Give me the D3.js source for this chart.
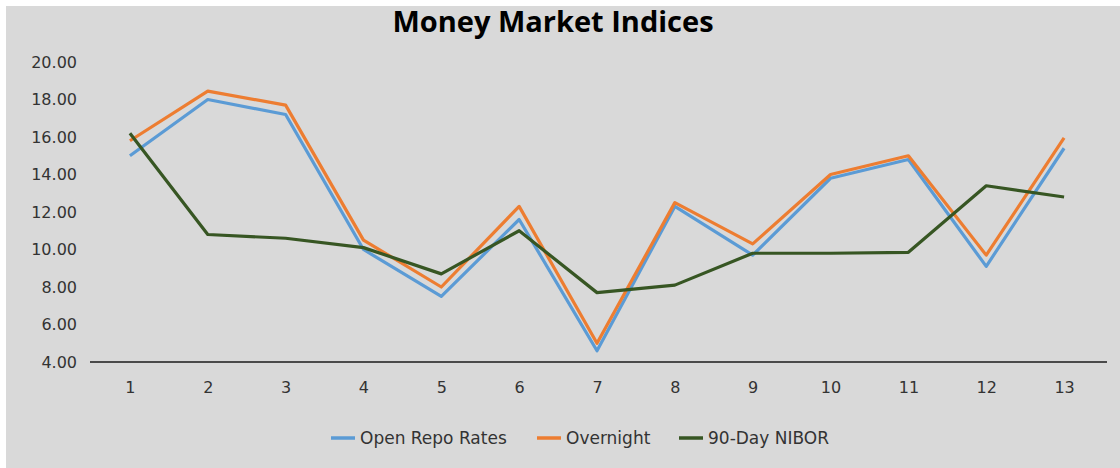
<!DOCTYPE html>
<html>
<head>
<meta charset="utf-8">
<script src="https://cdn.jsdelivr.net/npm/d3@7"></script>
<style>
  html, body { margin: 0; padding: 0; background: #fff; }
  svg { display: block; }
</style>
</head>
<body>
<div id="chart"></div>
<script>
// data
const periods = [1, 2, 3, 4, 5, 6, 7, 8, 9, 10, 11, 12, 13];
const openRepo = [15.0, 18.0, 17.2, 10.0, 7.5, 11.6, 4.6, 12.3, 9.7, 13.8, 14.8, 9.1, 15.4];
const overnight = [15.8, 18.45, 17.7, 10.5, 8.0, 12.3, 5.0, 12.5, 10.3, 14.0, 15.0, 9.7, 15.95];
const nibor = [16.2, 10.8, 10.6, 10.1, 8.7, 11.0, 7.7, 8.1, 9.8, 9.8, 9.85, 13.4, 12.8];
const yTicks = [4, 6, 8, 10, 12, 14, 16, 18, 20];
const seriesNames = ["Open Repo Rates", "Overnight", "90-Day NIBOR"];

const width = 1120;
const height = 468;
const colors = ["#5b9bd5", "#ed7d31", "#375623"];
const seriesData = [openRepo, overnight, nibor];
const labelFont = "'DejaVu Sans', Verdana, sans-serif";

const svg = d3.select("#chart")
  .append("svg")
  .attr("width", width)
  .attr("height", height);

// chart area background
svg.append("rect")
  .attr("x", 6)
  .attr("y", 6)
  .attr("width", width - 6)
  .attr("height", height - 6)
  .attr("fill", "#d9d9d9");

svg.append("text")
  .attr("x", 553)
  .attr("y", 32)
  .attr("text-anchor", "middle")
  .style("font-family", "'Open Sans', 'Liberation Sans', sans-serif")
  .style("font-weight", "bold")
  .style("font-size", "29px")
  .attr("fill", "#000")
  .text("Money Market Indices");

const x = d3.scalePoint()
  .domain(periods)
  .range([91, 1103])
  .padding(0.5);

const y = d3.scaleLinear()
  .domain([4, 20])
  .range([362, 62]);

// y axis labels, no line
const yAxis = svg.append("g")
  .attr("transform", "translate(77,0)")
  .call(d3.axisLeft(y).tickValues(yTicks).tickFormat(d3.format(".2f")).tickSize(0).tickPadding(0));
yAxis.select(".domain").remove();
yAxis.selectAll("text")
  .style("font-family", labelFont)
  .style("font-size", "16px")
  .attr("fill", "#333");

// x axis
const xAxis = svg.append("g")
  .attr("transform", "translate(0,362)")
  .call(d3.axisBottom(x).tickSize(0).tickPadding(20));
xAxis.select(".domain")
  .attr("d", "M90,0H1107")
  .attr("stroke", "#1a1a1a")
  .attr("stroke-width", 1.5);
xAxis.selectAll("text")
  .style("font-family", labelFont)
  .style("font-size", "16px")
  .attr("fill", "#333");

const line = d3.line()
  .x((d, i) => x(periods[i]))
  .y(d => y(d));

seriesData.forEach((vals, k) => {
  svg.append("path")
    .datum(vals)
    .attr("d", line)
    .attr("fill", "none")
    .attr("stroke", colors[k])
    .attr("stroke-width", 3.2)
    .attr("stroke-linejoin", "round");
});

// legend
const legendX = [331, 537, 679];
const legend = svg.append("g");
seriesNames.forEach((name, k) => {
  const g = legend.append("g").attr("transform", `translate(${legendX[k]},438)`);
  g.append("line")
    .attr("x1", 0).attr("x2", 24)
    .attr("y1", 0).attr("y2", 0)
    .attr("stroke", colors[k])
    .attr("stroke-width", 3.5);
  g.append("text")
    .attr("x", 29)
    .attr("y", 0)
    .attr("dy", "0.35em")
    .style("font-family", labelFont)
    .style("font-size", "17px")
    .attr("fill", "#333")
    .text(name);
});
</script>
</body>
</html>
